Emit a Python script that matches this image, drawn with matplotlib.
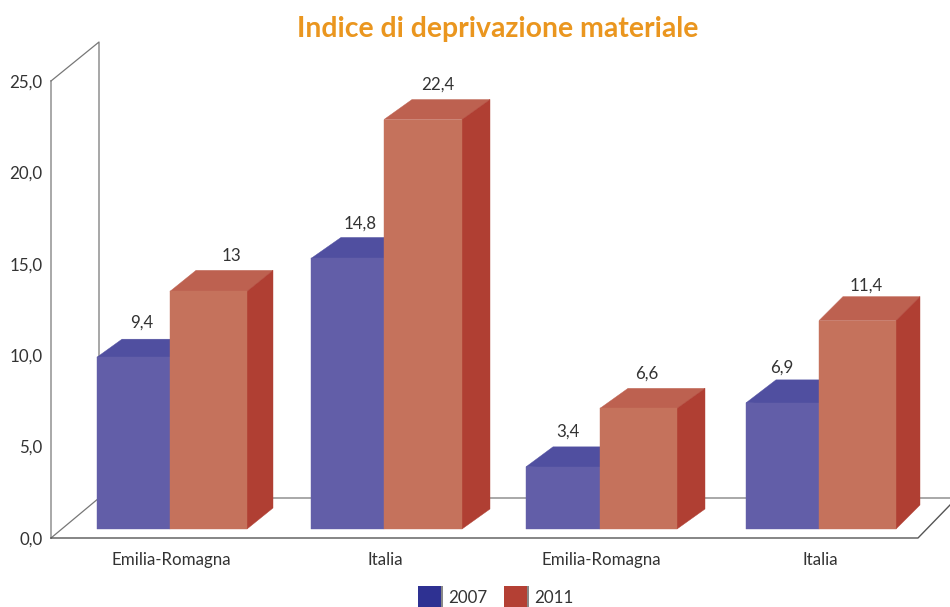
import matplotlib
matplotlib.use("Agg")
import matplotlib.pyplot as plt
from matplotlib.patches import Polygon, Rectangle

# ---- data
categories = ["Emilia-Romagna", "Italia", "Emilia-Romagna", "Italia"]
series_names = ["2007", "2011"]
values_2007 = [9.4, 14.8, 3.4, 6.9]
values_2011 = [13, 22.4, 6.6, 11.4]
labels_2007 = ["9,4", "14,8", "3,4", "6,9"]
labels_2011 = ["13", "22,4", "6,6", "11,4"]
y_ticks = [0, 5, 10, 15, 20, 25]
y_tick_labels = ["0,0", "5,0", "10,0", "15,0", "20,0", "25,0"]

# ---- layout (pixels on the 950x607 canvas)
W, H = 950, 607
FLOOR_PX, TOP_PX = 538, 81
S = (FLOOR_PX - TOP_PX) / 25
LEFT = 51
blue_left = [97, 311, 526, 746]
split = [170, 384, 600, 819]
red_right = [247, 462, 677, 896]
depth_x = [26, 28, 28, 24]
depth_y = [21, 20, 20, 24]
blue_dx = [25, 30, 27, 30]
blue_dy = [18, 21, 20, 23]
lab_off_blue = [8, 13, 5, -1]
lab_off_red = [23, 15, 8, 9]
BAR_BASE = 9 / S
LAB_OFF_Y = 35 / S
FS = 12.2

C_BLUE, C_BLUE_TOP = "#625EA8", "#504FA0"
C_RED, C_RED_TOP, C_RED_SIDE = "#C5725C", "#BD6150", "#B03F33"
C_LEG_BLUE, C_LEG_RED = "#2E3192", "#B44034"
C_TEXT = "#333333"

plt.rcParams["font.family"] = ["Lato", "DejaVu Sans"]

fig = plt.figure(figsize=(W / 100, H / 100), dpi=100, facecolor="white")
ax = fig.add_axes([LEFT / W, (H - FLOOR_PX) / H, (W - LEFT) / W, FLOOR_PX / H])
ax.set_xlim(LEFT, W)
ax.set_ylim(0, FLOOR_PX / S)
for s in ax.spines.values():
    s.set_visible(False)
ax.patch.set_alpha(0)

def Y(px):
    return (FLOOR_PX - px) / S

# frame of the 3D box
ax.plot([51, 51], [0, Y(81)], color="#999999", lw=1.2, clip_on=False, zorder=1)
ax.plot([51, 99, 99], [Y(81), Y(42), Y(498)], color="#777777", lw=0.9, clip_on=False, zorder=1)
ax.plot([51, 99], [0, Y(498)], color="#777777", lw=0.9, clip_on=False, zorder=1)
ax.plot([99, 950], [Y(498), Y(498)], color="#999999", lw=1.2, clip_on=False, zorder=1)
ax.plot([51, 918, 950], [0, 0, Y(505)], color="#555555", lw=1.0, clip_on=False, zorder=1)

for i in range(len(categories)):
    l, m, r = blue_left[i], split[i], red_right[i]
    vb, vr = values_2007[i], values_2011[i]
    tb, tr = BAR_BASE + vb, BAR_BASE + vr
    dx, dy = depth_x[i], depth_y[i] / S
    bdx, bdy = blue_dx[i], blue_dy[i] / S
    ax.add_patch(Polygon([(l, tb), (l + bdx, tb + bdy), (m, tb + bdy), (m, tb - 1 / S)],
                         closed=True, fc=C_BLUE_TOP, ec=C_BLUE_TOP, lw=0.3, zorder=2))
    ax.bar(l, vb, bottom=BAR_BASE, width=m - l, align="edge", color=C_BLUE, ec=C_BLUE, lw=0.3, zorder=3)
    ax.add_patch(Polygon([(m, tr), (m + dx, tr + dy), (r + dx, tr + dy), (r, tr)],
                         closed=True, fc=C_RED_TOP, ec=C_RED_TOP, lw=0.3, zorder=4, clip_on=False))
    ax.add_patch(Polygon([(r, BAR_BASE), (r + dx, BAR_BASE + dy), (r + dx, tr + dy), (r, tr)],
                         closed=True, fc=C_RED_SIDE, ec=C_RED_SIDE, lw=0.3, zorder=4, clip_on=False))
    ax.bar(m, vr, bottom=BAR_BASE, width=r - m, align="edge", color=C_RED, ec=C_RED, lw=0.3, zorder=5)
    ax.text((l + m) / 2 + lab_off_blue[i], tb + LAB_OFF_Y, labels_2007[i], ha="center", va="center",
            fontsize=FS, color=C_TEXT, zorder=6)
    ax.text((m + r) / 2 + lab_off_red[i], tr + LAB_OFF_Y, labels_2011[i], ha="center", va="center",
            fontsize=FS, color=C_TEXT, zorder=6)

ax.set_yticks(y_ticks, y_tick_labels, fontsize=FS, color=C_TEXT)
ax.set_xticks([s + 1 for s in split], categories, fontsize=FS, color=C_TEXT)
ax.tick_params(axis="y", length=0, pad=6)
ax.tick_params(axis="x", length=0, pad=10)

fig.text(498 / W, 1 - 29 / H, "Indice di deprivazione materiale", ha="center", va="center",
         fontsize=20.4, fontweight="bold", color="#EA961F")

# legend
for x0, col, name in zip([418, 504], [C_LEG_BLUE, C_LEG_RED], series_names):
    fig.add_artist(Rectangle(((x0 + 23) / W, 0), 2 / W, 21 / H, transform=fig.transFigure,
                             fc="#888888", ec="none"))
    fig.add_artist(Rectangle((x0 / W, 0), 23 / W, 21 / H, transform=fig.transFigure, fc=col, ec="none"))
    fig.text((x0 + 30) / W, 1 - 598 / H, name, ha="left", va="center", fontsize=FS, color=C_TEXT)

fig.savefig("out.png", dpi=100)
